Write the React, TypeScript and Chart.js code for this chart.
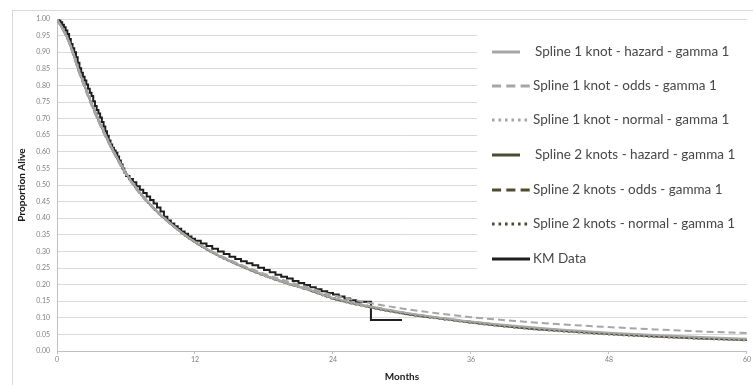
import React, { useEffect, useRef } from "react";
import { Chart, registerables } from "chart.js";

Chart.register(...registerables);

const months = [0, 1, 2, 3, 4, 5, 6, 7, 8, 9, 10, 11, 12, 14, 16, 18, 20, 22, 24, 27, 30, 33, 36, 40, 44, 48, 52, 56, 60];

const s1Hazard = [1.0, 0.936, 0.836, 0.746, 0.667, 0.597, 0.536, 0.486, 0.446, 0.411, 0.381, 0.353, 0.329, 0.289, 0.257, 0.229, 0.205, 0.184, 0.160, 0.136, 0.117, 0.102, 0.089, 0.075, 0.064, 0.055, 0.048, 0.042, 0.037];
const s1Odds = [1.0, 0.932, 0.830, 0.740, 0.661, 0.592, 0.531, 0.482, 0.442, 0.408, 0.379, 0.352, 0.329, 0.291, 0.260, 0.233, 0.210, 0.190, 0.168, 0.146, 0.128, 0.114, 0.102, 0.090, 0.080, 0.072, 0.065, 0.059, 0.054];
const s1Normal = [1.0, 0.938, 0.838, 0.748, 0.668, 0.598, 0.537, 0.487, 0.446, 0.411, 0.380, 0.352, 0.328, 0.287, 0.255, 0.227, 0.203, 0.182, 0.158, 0.134, 0.115, 0.099, 0.086, 0.071, 0.060, 0.051, 0.044, 0.038, 0.033];
const s2Hazard = [1.0, 0.935, 0.835, 0.745, 0.665, 0.595, 0.535, 0.485, 0.445, 0.410, 0.380, 0.352, 0.328, 0.288, 0.256, 0.228, 0.204, 0.183, 0.158, 0.134, 0.114, 0.099, 0.086, 0.071, 0.060, 0.051, 0.044, 0.038, 0.033];
const s2Odds = [1.0, 0.934, 0.833, 0.743, 0.663, 0.594, 0.534, 0.485, 0.445, 0.410, 0.380, 0.353, 0.329, 0.289, 0.257, 0.229, 0.205, 0.184, 0.160, 0.136, 0.116, 0.101, 0.088, 0.073, 0.062, 0.053, 0.046, 0.040, 0.035];
const s2Normal = [1.0, 0.937, 0.837, 0.747, 0.667, 0.596, 0.535, 0.485, 0.444, 0.409, 0.379, 0.351, 0.327, 0.287, 0.255, 0.227, 0.203, 0.182, 0.157, 0.133, 0.113, 0.098, 0.085, 0.070, 0.059, 0.050, 0.043, 0.037, 0.032];

const kmTimes = [
  0, 0.15, 0.3, 0.45, 0.6, 0.75, 0.9, 1.05, 1.2, 1.35, 1.5, 1.65, 1.8, 1.95, 2.1, 2.25, 2.4, 2.55, 2.7, 2.85, 3.0,
  3.15, 3.3, 3.45, 3.6, 3.75, 3.9, 4.05, 4.2, 4.35, 4.5, 4.65, 4.8, 4.95, 5.1, 5.25, 5.4, 5.55, 5.7, 5.85, 6.0,
  6.3, 6.6, 6.9, 7.2, 7.5, 7.8, 8.1, 8.4, 8.7, 9.0, 9.3, 9.6, 9.9, 10.2, 10.5, 10.8, 11.1, 11.4, 11.7, 12.0,
  12.5, 13.0, 13.5, 14.0, 14.5, 15.0, 15.5, 16.0, 16.5, 17.0, 17.5, 18.0, 18.5, 19.0, 19.5, 20.0, 20.5, 21.0,
  21.5, 22.0, 22.5, 23.0, 23.5, 24.0, 24.5, 25.0, 25.5, 26.0, 27.3, 30.0,
];
const kmSurv = [
  1.0, 0.995, 0.99, 0.983, 0.975, 0.965, 0.955, 0.94, 0.925, 0.912, 0.9, 0.885, 0.868, 0.852, 0.838, 0.826, 0.815, 0.803, 0.79, 0.778, 0.768,
  0.752, 0.738, 0.726, 0.715, 0.703, 0.69, 0.676, 0.662, 0.648, 0.634, 0.622, 0.612, 0.604, 0.597, 0.586, 0.574, 0.562, 0.55, 0.538, 0.527,
  0.518, 0.508, 0.496, 0.486, 0.476, 0.465, 0.455, 0.444, 0.432, 0.42, 0.404, 0.393, 0.384, 0.376, 0.368, 0.36, 0.353, 0.345, 0.338, 0.332,
  0.324, 0.316, 0.308, 0.3, 0.292, 0.284, 0.277, 0.27, 0.264, 0.258, 0.251, 0.244, 0.237, 0.23, 0.224, 0.218, 0.211, 0.205,
  0.199, 0.192, 0.186, 0.18, 0.175, 0.17, 0.164, 0.158, 0.153, 0.148, 0.093, 0.093,
];

const seriesLabels = [
  "Spline 1 knot - hazard - gamma 1",
  "Spline 1 knot - odds - gamma 1",
  "Spline 1 knot - normal - gamma 1",
  "Spline 2 knots - hazard - gamma 1",
  "Spline 2 knots - odds - gamma 1",
  "Spline 2 knots - normal - gamma 1",
  "KM Data",
];

const yTicks = [0, 0.05, 0.1, 0.15, 0.2, 0.25, 0.3, 0.35, 0.4, 0.45, 0.5, 0.55, 0.6, 0.65, 0.7, 0.75, 0.8, 0.85, 0.9, 0.95, 1.0];
const xTicks = [0, 12, 24, 36, 48, 60];

const GRAY = "#a6a6a6";
const OLIVE = "#4d4b30";
const BLACK = "#1e1e1e";

const toPts = (xs: number[], ys: number[]) => xs.map((x, i) => ({ x, y: ys[i] }));

const frameAndLegend = {
  id: "frameAndLegend",
  beforeDraw(chart: any) {
    const ctx = chart.ctx;
    ctx.save();
    ctx.fillStyle = "#ffffff";
    ctx.fillRect(0, 0, chart.width, chart.height);
    ctx.strokeStyle = "#d9d9d9";
    ctx.lineWidth = 1;
    ctx.strokeRect(12.5, 10.5, 900, 500);
    ctx.restore();
  },
  beforeDatasetsDraw(chart: any) {
    const ctx = chart.ctx;
    ctx.save();
    ctx.fillStyle = "#ffffff";
    ctx.fillRect(477, 24, 280, 252);
    const rowY = [52, 86, 120, 155, 190, 224, 259];
    chart.data.datasets.forEach((ds: any, i: number) => {
      const y = rowY[i];
      const solidShort = i === 0 || i === 3;
      const x0 = 492;
      const x1 = solidShort ? 520 : 530;
      const tx = solidShort ? 535 : 533;
      ctx.beginPath();
      ctx.strokeStyle = ds.borderColor;
      ctx.lineWidth = 3;
      ctx.setLineDash(ds.borderDash && ds.borderDash.length ? ds.borderDash.map((d: number) => d * 1.3) : []);
      ctx.moveTo(x0, y);
      ctx.lineTo(x1, y);
      ctx.stroke();
      ctx.setLineDash([]);
      ctx.fillStyle = "#474747";
      ctx.font = "13.5px Lato";
      ctx.textBaseline = "middle";
      ctx.textAlign = "left";
      ctx.fillText(ds.label, tx, y);
    });
    ctx.restore();
  },
};

export default function App() {
  const ref = useRef<HTMLCanvasElement | null>(null);
  useEffect(() => {
    document.body.style.margin = "0";
    const canvas = ref.current!;
    const fits = [s1Hazard, s1Odds, s1Normal, s2Hazard, s2Odds, s2Normal];
    const colors = [GRAY, GRAY, GRAY, OLIVE, OLIVE, OLIVE];
    const dashes = [[], [7, 4], [2, 3], [], [7, 4], [2, 3]];
    const datasets: any[] = fits.map((ys, i) => ({
      label: seriesLabels[i],
      data: toPts(months, ys),
      borderColor: colors[i],
      borderDash: dashes[i],
      borderWidth: 2,
      pointRadius: 0,
      cubicInterpolationMode: "monotone",
      fill: false,
    }));
    datasets.push({
      label: seriesLabels[6],
      data: toPts(kmTimes, kmSurv),
      borderColor: BLACK,
      borderDash: [],
      borderWidth: 2,
      pointRadius: 0,
      stepped: "before",
      fill: false,
    });
    const chart = new Chart(canvas, {
      type: "line",
      data: { datasets },
      plugins: [frameAndLegend],
      options: {
        responsive: false,
        animation: false,
        layout: { padding: { left: 0, top: 19, right: 3, bottom: 0 } },
        plugins: { legend: { display: false }, tooltip: { enabled: false } },
        scales: {
          x: {
            type: "linear",
            min: 0,
            max: 60,
            afterBuildTicks: (s: any) => {
              s.ticks = xTicks.map((v) => ({ value: v }));
            },
            afterFit: (s: any) => {
              s.height = 34;
            },
            grid: { drawOnChartArea: false, drawTicks: true, tickLength: 3, color: "#bfbfbf" },
            border: { color: "#bfbfbf" },
            ticks: { color: "#7f7f7f", font: { size: 7, family: "Lato" }, padding: 2, maxRotation: 0, autoSkip: false },
            title: { display: true, text: "Months", color: "#1a1a1a", font: { size: 10, weight: "bold", family: "Lato" }, padding: { top: 0, bottom: 2 } },
          },
          y: {
            type: "linear",
            min: 0,
            max: 1,
            afterBuildTicks: (s: any) => {
              s.ticks = yTicks.map((v) => ({ value: v }));
            },
            afterFit: (s: any) => {
              s.width = 57;
            },
            grid: { color: "#d9d9d9", drawTicks: false },
            border: { color: "#bfbfbf" },
            ticks: { color: "#7f7f7f", font: { size: 7, family: "Lato" }, padding: 7, autoSkip: false, callback: (v: any) => Number(v).toFixed(2) },
            title: { display: true, text: "Proportion Alive", color: "#1a1a1a", font: { size: 10, weight: "bold", family: "Lato" }, padding: { top: 16, bottom: 0 } },
          },
        },
      } as any,
    });
    return () => chart.destroy();
  }, []);
  return (
    <div style={{ position: "absolute", left: 0, top: 0 }}>
      <canvas ref={ref} width={753} height={385} style={{ display: "block" }} />
    </div>
  );
}
